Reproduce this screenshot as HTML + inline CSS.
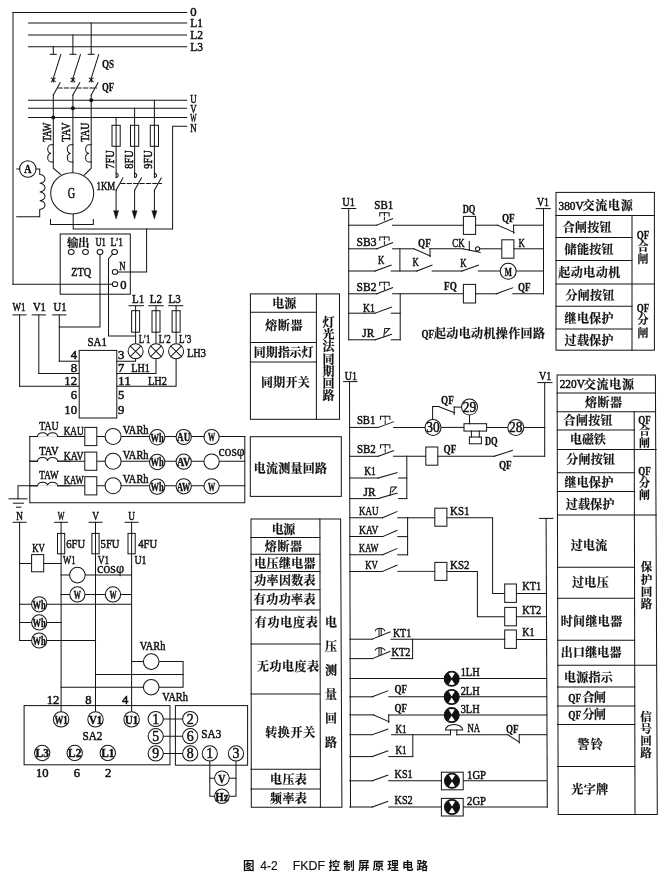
<!DOCTYPE html>
<html lang="zh"><head><meta charset="utf-8"><title>图 4-2 FKDF 控制屏原理电路</title>
<style>
html,body{margin:0;padding:0;background:#fff}
body{width:664px;height:880px;overflow:hidden}
svg{display:block;will-change:transform;filter:grayscale(1)}
svg line,svg polyline,svg path,svg rect,svg circle,svg ellipse{fill:none;stroke:#151515;stroke-width:1.02;stroke-linecap:square}
svg .w{fill:#fff}
svg .k{fill:#111}
svg .wf{fill:#fff;stroke:none}
svg .thin{stroke-width:0.9}
svg text{fill:#111;stroke:none}
svg .t{font-family:"Liberation Serif","Noto Serif CJK SC",serif;stroke:#111;stroke-width:0.5}
svg .tm{font-family:"Liberation Serif",serif;font-weight:700;stroke:#111;stroke-width:0.45}
svg .tb{font-family:"Liberation Serif",serif;font-weight:700;stroke:#111;stroke-width:0.3}
svg .cf{font-family:"Liberation Serif",serif;stroke:#111;stroke-width:0.3}
svg .z{font-family:"Liberation Serif","Noto Serif CJK SC",serif;font-weight:700;stroke:#111;stroke-width:0.2}
svg .cap2{font-family:"Liberation Sans",sans-serif;font-weight:400;stroke:#111;stroke-width:0.15}
svg .cap{font-family:"Liberation Sans","Noto Sans CJK SC",sans-serif;font-weight:700}
</style></head><body>
<svg width="664" height="880" viewBox="0 0 664 880">
<rect x="0" y="0" width="664" height="880" style="fill:#fff;stroke:none"/>
<line x1="13" y1="12.4" x2="186.7" y2="12.4"/>
<line x1="13" y1="12.4" x2="13" y2="284.2"/>
<line x1="13" y1="284.2" x2="112.4" y2="284.2"/>
<line x1="28.6" y1="23" x2="186.7" y2="23"/>
<line x1="28.6" y1="35" x2="186.7" y2="35"/>
<line x1="28.6" y1="46.8" x2="186.7" y2="46.8"/>
<line x1="28.6" y1="100.2" x2="186.7" y2="100.2"/>
<line x1="28.6" y1="108.3" x2="186.7" y2="108.3"/>
<line x1="28.6" y1="117.4" x2="186.7" y2="117.4"/>
<polyline points="186.7,126.3 172.6,126.3 172.6,229 73.2,229 73.2,214"/>
<text x="190.2" y="16.32" text-anchor="start" font-size="12.48" textLength="6.35" lengthAdjust="spacingAndGlyphs" class="t">0</text>
<text x="190.2" y="27.32" text-anchor="start" font-size="12.48" textLength="12.71" lengthAdjust="spacingAndGlyphs" class="t">L1</text>
<text x="190.2" y="39.32" text-anchor="start" font-size="12.48" textLength="12.71" lengthAdjust="spacingAndGlyphs" class="t">L2</text>
<text x="190.2" y="51.12" text-anchor="start" font-size="12.48" textLength="12.71" lengthAdjust="spacingAndGlyphs" class="t">L3</text>
<text x="190.2" y="103.12" text-anchor="start" font-size="12.48" textLength="6.35" lengthAdjust="spacingAndGlyphs" class="t">U</text>
<text x="190.2" y="112.72" text-anchor="start" font-size="12.48" textLength="6.35" lengthAdjust="spacingAndGlyphs" class="t">V</text>
<text x="190.2" y="122.32" text-anchor="start" font-size="12.48" textLength="6.35" lengthAdjust="spacingAndGlyphs" class="t">W</text>
<text x="190.2" y="132.32" text-anchor="start" font-size="12.48" textLength="6.35" lengthAdjust="spacingAndGlyphs" class="t">N</text>
<line x1="53.3" y1="46.8" x2="53.3" y2="54.3"/>
<line x1="50.3" y1="54.3" x2="56.3" y2="54.3"/>
<line x1="60.8" y1="54.6" x2="53.3" y2="78.4"/>
<line x1="51.4" y1="78.1" x2="55.2" y2="81.7"/>
<line x1="51.4" y1="81.7" x2="55.2" y2="78.1"/>
<line x1="53.3" y1="78" x2="53.3" y2="82"/>
<line x1="60.1" y1="82.8" x2="53.3" y2="95"/>
<line x1="72.9" y1="35" x2="72.9" y2="54.3"/>
<line x1="69.9" y1="54.3" x2="75.9" y2="54.3"/>
<line x1="80.4" y1="54.6" x2="72.9" y2="78.4"/>
<line x1="71" y1="78.1" x2="74.8" y2="81.7"/>
<line x1="71" y1="81.7" x2="74.8" y2="78.1"/>
<line x1="72.9" y1="78" x2="72.9" y2="82"/>
<line x1="79.7" y1="82.8" x2="72.9" y2="95"/>
<line x1="91.2" y1="23" x2="91.2" y2="54.3"/>
<line x1="88.2" y1="54.3" x2="94.2" y2="54.3"/>
<line x1="98.7" y1="54.6" x2="91.2" y2="78.4"/>
<line x1="89.3" y1="78.1" x2="93.1" y2="81.7"/>
<line x1="89.3" y1="81.7" x2="93.1" y2="78.1"/>
<line x1="91.2" y1="78" x2="91.2" y2="82"/>
<line x1="98" y1="82.8" x2="91.2" y2="95"/>
<circle cx="53.3" cy="117.4" r="1.5" class="k"/>
<circle cx="72.9" cy="108.3" r="1.5" class="k"/>
<circle cx="91.2" cy="100.2" r="1.5" class="k"/>
<line x1="57.9" y1="87.9" x2="96.5" y2="87.9" stroke-dasharray="4.2 2.2" stroke-linecap="butt"/>
<text x="102" y="68.49" text-anchor="start" font-size="13" textLength="12.18" lengthAdjust="spacingAndGlyphs" class="tb">QS</text>
<text x="102" y="91.49" text-anchor="start" font-size="13" textLength="12.18" lengthAdjust="spacingAndGlyphs" class="tb">QF</text>
<polyline points="53.3,95 53.3,168.2 60.7,174.6"/>
<line x1="72.9" y1="95" x2="72.9" y2="172.8"/>
<polyline points="91.2,95 91.2,168.2 84,175.2"/>
<path d="M53.3,144.8 h-2.2 a3.4,4.3 0 0,0 0,8.6 a3.4,4.3 0 0,0 0,8.6 h2.2"/>
<path d="M72.9,144.8 h-2.2 a3.4,4.3 0 0,0 0,8.6 a3.4,4.3 0 0,0 0,8.6 h2.2"/>
<path d="M91.2,144.8 h-2.2 a3.4,4.3 0 0,0 0,8.6 a3.4,4.3 0 0,0 0,8.6 h2.2"/>
<text x="46.8" y="136.32" text-anchor="middle" font-size="12.48" textLength="19.21" lengthAdjust="spacingAndGlyphs" class="t" transform="rotate(-90 46.8 132.2)">TAW</text>
<text x="66" y="136.32" text-anchor="middle" font-size="12.48" textLength="19.21" lengthAdjust="spacingAndGlyphs" class="t" transform="rotate(-90 66 132.2)">TAV</text>
<text x="84.6" y="136.32" text-anchor="middle" font-size="12.48" textLength="19.21" lengthAdjust="spacingAndGlyphs" class="t" transform="rotate(-90 84.6 132.2)">TAU</text>
<ellipse cx="72.2" cy="193.3" rx="21.5" ry="20.6" class="w"/>
<text x="71.4" y="198.36" text-anchor="middle" font-size="13.52" textLength="7.35" lengthAdjust="spacingAndGlyphs" class="t">G</text>
<polyline points="50.5,219.5 50.5,224.4 93.3,224.4 93.3,219.5"/>
<circle cx="27.8" cy="169" r="8.2" class="w"/>
<text x="27.8" y="173.49" text-anchor="middle" font-size="13" textLength="7.14" lengthAdjust="spacingAndGlyphs" class="tm">A</text>
<line x1="16.8" y1="169" x2="19.6" y2="169"/>
<path d="M36,169 H39.7 V174.6 a5.3,4.35 0 0,1 0,8.7 a5.3,4.35 0 0,1 0,8.7 a5.3,4.35 0 0,1 0,8.7 a5.3,4.35 0 0,1 0,8.7 V216.7 H16.7"/>
<line x1="116.1" y1="117.4" x2="116.1" y2="177.4"/>
<rect x="112" y="125.3" width="8.2" height="21"/>
<path d="M116.1,173.2 a2.1,2.2 0 1,1 0,4.4"/>
<line x1="122.9" y1="178" x2="116.1" y2="190.3"/>
<line x1="116.1" y1="190.3" x2="116.1" y2="213"/>
<path d="M113.7,211 L116.1,219 L118.5,211 Z" style="fill:#111;stroke-width:0.5"/>
<text x="110" y="163.62" text-anchor="middle" font-size="12.48" textLength="18.38" lengthAdjust="spacingAndGlyphs" class="t" transform="rotate(-90 110 159.5)">7FU</text>
<line x1="134.6" y1="108.3" x2="134.6" y2="177.4"/>
<rect x="130.5" y="125.3" width="8.2" height="21"/>
<path d="M134.6,173.2 a2.1,2.2 0 1,1 0,4.4"/>
<line x1="141.4" y1="178" x2="134.6" y2="190.3"/>
<line x1="134.6" y1="190.3" x2="134.6" y2="213"/>
<path d="M132.2,211 L134.6,219 L137,211 Z" style="fill:#111;stroke-width:0.5"/>
<text x="128.4" y="163.62" text-anchor="middle" font-size="12.48" textLength="18.38" lengthAdjust="spacingAndGlyphs" class="t" transform="rotate(-90 128.4 159.5)">8FU</text>
<line x1="154.4" y1="100.2" x2="154.4" y2="177.4"/>
<rect x="150.3" y="125.3" width="8.2" height="21"/>
<path d="M154.4,173.2 a2.1,2.2 0 1,1 0,4.4"/>
<line x1="161.2" y1="178" x2="154.4" y2="190.3"/>
<line x1="154.4" y1="190.3" x2="154.4" y2="213"/>
<path d="M152,211 L154.4,219 L156.8,211 Z" style="fill:#111;stroke-width:0.5"/>
<text x="147.6" y="163.62" text-anchor="middle" font-size="12.48" textLength="18.38" lengthAdjust="spacingAndGlyphs" class="t" transform="rotate(-90 147.6 159.5)">9FU</text>
<line x1="120.8" y1="183.5" x2="161.5" y2="183.5" stroke-dasharray="4.2 2.2" stroke-linecap="butt"/>
<text x="96.5" y="189.62" text-anchor="start" font-size="12.48" textLength="18.69" lengthAdjust="spacingAndGlyphs" class="t">1KM</text>
<rect x="60.2" y="234" width="70.1" height="60.2"/>
<polyline points="146.6,229 146.6,271.9 117.6,271.9"/>
<text x="67" y="246.97" text-anchor="start" font-size="11.5" textLength="22.5" lengthAdjust="spacing" class="z">输出</text>
<text x="95.4" y="246.32" text-anchor="start" font-size="12.48" textLength="10.5" lengthAdjust="spacingAndGlyphs" class="t">U1</text>
<text x="110.5" y="246.32" text-anchor="start" font-size="12.48" textLength="12.39" lengthAdjust="spacingAndGlyphs" class="t">L′1</text>
<ellipse cx="71.2" cy="252" rx="2.9" ry="2.4" class="w"/>
<ellipse cx="85.5" cy="252" rx="2.9" ry="2.4" class="w"/>
<ellipse cx="100" cy="252" rx="2.9" ry="2.4" class="w"/>
<ellipse cx="114.6" cy="252" rx="2.9" ry="2.4" class="w"/>
<ellipse cx="115" cy="271.9" rx="2.7" ry="2.4" class="w"/>
<ellipse cx="115" cy="284.2" rx="2.7" ry="2.4" class="w"/>
<text x="119.3" y="270.12" text-anchor="start" font-size="12.48" textLength="6.3" lengthAdjust="spacingAndGlyphs" class="t">N</text>
<text x="120.2" y="288.72" text-anchor="start" font-size="12.48" textLength="6.3" lengthAdjust="spacingAndGlyphs" class="t">0</text>
<text x="71.3" y="275.52" text-anchor="start" font-size="12.48" textLength="19.95" lengthAdjust="spacingAndGlyphs" class="t">ZTQ</text>
<polyline points="100,254.4 100,327 59.3,327"/>
<polyline points="112.8,254 108.5,258.6 108.5,336 135.6,336"/>
<text x="12.5" y="310.92" text-anchor="start" font-size="12.48" textLength="13.02" lengthAdjust="spacingAndGlyphs" class="t">W1</text>
<line x1="13" y1="314.9" x2="26.2" y2="314.9"/>
<text x="32.9" y="310.92" text-anchor="start" font-size="12.48" textLength="13.02" lengthAdjust="spacingAndGlyphs" class="t">V1</text>
<line x1="32.2" y1="314.9" x2="45.4" y2="314.9"/>
<text x="53.5" y="310.92" text-anchor="start" font-size="12.48" textLength="13.02" lengthAdjust="spacingAndGlyphs" class="t">U1</text>
<line x1="52.7" y1="314.9" x2="65.9" y2="314.9"/>
<line x1="19.6" y1="314.9" x2="19.6" y2="386.2"/>
<line x1="19.6" y1="386.2" x2="79.2" y2="386.2"/>
<line x1="38.8" y1="314.9" x2="38.8" y2="373.5"/>
<line x1="38.8" y1="373.5" x2="79.2" y2="373.5"/>
<line x1="59.3" y1="314.9" x2="59.3" y2="361.2"/>
<line x1="59.3" y1="361.2" x2="79.2" y2="361.2"/>
<rect x="79.2" y="350.4" width="37.6" height="67.6" class="w"/>
<text x="87.5" y="346.12" text-anchor="start" font-size="12.48" textLength="19.43" lengthAdjust="spacingAndGlyphs" class="t">SA1</text>
<text x="77" y="358.92" text-anchor="end" font-size="12.48" textLength="6.35" lengthAdjust="spacingAndGlyphs" class="t">4</text>
<text x="77" y="371.52" text-anchor="end" font-size="12.48" textLength="6.35" lengthAdjust="spacingAndGlyphs" class="t">8</text>
<text x="77" y="384.72" text-anchor="end" font-size="12.48" textLength="12.71" lengthAdjust="spacingAndGlyphs" class="t">12</text>
<text x="77" y="398.52" text-anchor="end" font-size="12.48" textLength="6.35" lengthAdjust="spacingAndGlyphs" class="t">6</text>
<text x="77" y="413.52" text-anchor="end" font-size="12.48" textLength="12.71" lengthAdjust="spacingAndGlyphs" class="t">10</text>
<text x="118.1" y="358.92" text-anchor="start" font-size="12.48" textLength="6.35" lengthAdjust="spacingAndGlyphs" class="t">3</text>
<text x="118.1" y="371.52" text-anchor="start" font-size="12.48" textLength="6.35" lengthAdjust="spacingAndGlyphs" class="t">7</text>
<text x="118.1" y="384.72" text-anchor="start" font-size="12.48" textLength="12.71" lengthAdjust="spacingAndGlyphs" class="t">11</text>
<text x="118.1" y="398.52" text-anchor="start" font-size="12.48" textLength="6.35" lengthAdjust="spacingAndGlyphs" class="t">5</text>
<text x="118.1" y="413.52" text-anchor="start" font-size="12.48" textLength="6.35" lengthAdjust="spacingAndGlyphs" class="t">9</text>
<text x="131.3" y="371.52" text-anchor="start" font-size="12.48" textLength="18.48" lengthAdjust="spacingAndGlyphs" class="t">LH1</text>
<text x="147.9" y="384.92" text-anchor="start" font-size="12.48" textLength="18.9" lengthAdjust="spacingAndGlyphs" class="t">LH2</text>
<text x="186.9" y="356.72" text-anchor="start" font-size="12.48" textLength="18.9" lengthAdjust="spacingAndGlyphs" class="t">LH3</text>
<text x="132.1" y="303.12" text-anchor="start" font-size="12.48" textLength="12.18" lengthAdjust="spacingAndGlyphs" class="t">L1</text>
<line x1="129" y1="305.7" x2="143.4" y2="305.7"/>
<line x1="135.6" y1="305.7" x2="135.6" y2="344"/>
<rect x="131.6" y="310.7" width="8" height="21.5"/>
<circle cx="135.6" cy="351.3" r="7.5" class="w"/>
<line x1="130.3" y1="346" x2="140.9" y2="356.6"/>
<line x1="130.3" y1="356.6" x2="140.9" y2="346"/>
<text x="149.7" y="303.12" text-anchor="start" font-size="12.48" textLength="12.18" lengthAdjust="spacingAndGlyphs" class="t">L2</text>
<line x1="148.9" y1="305.7" x2="163" y2="305.7"/>
<line x1="156" y1="305.7" x2="156" y2="344"/>
<rect x="152" y="310.7" width="8" height="21.5"/>
<circle cx="156" cy="351.3" r="7.5" class="w"/>
<line x1="150.7" y1="346" x2="161.3" y2="356.6"/>
<line x1="150.7" y1="356.6" x2="161.3" y2="346"/>
<text x="168.5" y="303.12" text-anchor="start" font-size="12.48" textLength="12.18" lengthAdjust="spacingAndGlyphs" class="t">L3</text>
<line x1="168.8" y1="305.7" x2="182.8" y2="305.7"/>
<line x1="176.1" y1="305.7" x2="176.1" y2="344"/>
<rect x="172.1" y="310.7" width="8" height="21.5"/>
<circle cx="176.1" cy="351.3" r="7.5" class="w"/>
<line x1="170.8" y1="346" x2="181.4" y2="356.6"/>
<line x1="170.8" y1="356.6" x2="181.4" y2="346"/>
<text x="138.7" y="342.92" text-anchor="start" font-size="12.48" textLength="11.55" lengthAdjust="spacingAndGlyphs" class="t">L′1</text>
<text x="158.7" y="342.92" text-anchor="start" font-size="12.48" textLength="11.97" lengthAdjust="spacingAndGlyphs" class="t">L′2</text>
<text x="179.1" y="342.92" text-anchor="start" font-size="12.48" textLength="12.18" lengthAdjust="spacingAndGlyphs" class="t">L′3</text>
<polyline points="116.8,361.2 135.6,361.2 135.6,358.8"/>
<polyline points="116.8,373.5 156,373.5 156,358.8"/>
<polyline points="116.8,386.2 176.1,386.2 176.1,358.8"/>
<polyline points="244.8,436.5 244.8,502.7 29.8,502.7 29.8,436.5"/>
<polyline points="29.8,485.8 18,485.8 18,498.8"/>
<line x1="9" y1="498.8" x2="27" y2="498.8"/>
<line x1="13.4" y1="503.2" x2="23.4" y2="503.2"/>
<line x1="16.4" y1="507.2" x2="20.8" y2="507.2"/>
<line x1="29.8" y1="436.5" x2="244.8" y2="436.5"/>
<path d="M37.4,436.5 c0.6,-4.6 9.4,-5 10.2,-0.4 c0.8,-4.6 9.6,-4.2 10.2,0.4" class="w"/>
<rect x="37.8" y="436.3" width="19.8" height="1.6" style="fill:#fff;stroke:none"/>
<line x1="29.8" y1="436.5" x2="37.6" y2="436.5"/>
<line x1="57.6" y1="436.5" x2="70" y2="436.5"/>
<rect x="84.8" y="427.4" width="12" height="18.2" class="w"/>
<circle cx="113.1" cy="436.5" r="8" class="w"/>
<circle cx="157.2" cy="437.3" r="7.7" class="w"/>
<text x="157.2" y="441.79" text-anchor="middle" font-size="13" textLength="13.23" lengthAdjust="spacingAndGlyphs" class="tm">Wh</text>
<circle cx="183.7" cy="437" r="7.6" class="w"/>
<text x="183.7" y="441.49" text-anchor="middle" font-size="13" textLength="13.23" lengthAdjust="spacingAndGlyphs" class="tm">AU</text>
<circle cx="211.6" cy="437" r="7.6" class="w"/>
<text x="211.6" y="441.49" text-anchor="middle" font-size="13" textLength="7.14" lengthAdjust="spacingAndGlyphs" class="tm">W</text>
<text x="39.3" y="430.02" text-anchor="start" font-size="12.48" textLength="19.32" lengthAdjust="spacingAndGlyphs" class="t">TAU</text>
<text x="63.7" y="434.82" text-anchor="start" font-size="12.48" textLength="19.95" lengthAdjust="spacingAndGlyphs" class="t">KAU</text>
<text x="122.7" y="434.02" text-anchor="start" font-size="12.48" textLength="25.83" lengthAdjust="spacingAndGlyphs" class="t">VARh</text>
<line x1="29.8" y1="461.2" x2="244.8" y2="461.2"/>
<path d="M37.4,461.2 c0.6,-4.6 9.4,-5 10.2,-0.4 c0.8,-4.6 9.6,-4.2 10.2,0.4" class="w"/>
<rect x="37.8" y="461" width="19.8" height="1.6" style="fill:#fff;stroke:none"/>
<line x1="29.8" y1="461.2" x2="37.6" y2="461.2"/>
<line x1="57.6" y1="461.2" x2="70" y2="461.2"/>
<rect x="84.8" y="452.1" width="12" height="18.2" class="w"/>
<circle cx="113.1" cy="461.2" r="8" class="w"/>
<circle cx="157.2" cy="462" r="7.7" class="w"/>
<text x="157.2" y="466.49" text-anchor="middle" font-size="13" textLength="13.23" lengthAdjust="spacingAndGlyphs" class="tm">Wh</text>
<circle cx="183.7" cy="461.7" r="7.6" class="w"/>
<text x="183.7" y="466.19" text-anchor="middle" font-size="13" textLength="13.23" lengthAdjust="spacingAndGlyphs" class="tm">AV</text>
<circle cx="211.6" cy="461.6" r="7.7" class="w"/>
<text x="39.3" y="454.72" text-anchor="start" font-size="12.48" textLength="19.32" lengthAdjust="spacingAndGlyphs" class="t">TAV</text>
<text x="63.7" y="459.52" text-anchor="start" font-size="12.48" textLength="19.95" lengthAdjust="spacingAndGlyphs" class="t">KAV</text>
<text x="122.7" y="458.72" text-anchor="start" font-size="12.48" textLength="25.83" lengthAdjust="spacingAndGlyphs" class="t">VARh</text>
<line x1="29.8" y1="485.8" x2="244.8" y2="485.8"/>
<path d="M37.4,485.8 c0.6,-4.6 9.4,-5 10.2,-0.4 c0.8,-4.6 9.6,-4.2 10.2,0.4" class="w"/>
<rect x="37.8" y="485.6" width="19.8" height="1.6" style="fill:#fff;stroke:none"/>
<line x1="29.8" y1="485.8" x2="37.6" y2="485.8"/>
<line x1="57.6" y1="485.8" x2="70" y2="485.8"/>
<rect x="84.8" y="476.7" width="12" height="18.2" class="w"/>
<circle cx="113.1" cy="485.8" r="8" class="w"/>
<circle cx="157.2" cy="486.6" r="7.7" class="w"/>
<text x="157.2" y="491.09" text-anchor="middle" font-size="13" textLength="13.23" lengthAdjust="spacingAndGlyphs" class="tm">Wh</text>
<circle cx="183.7" cy="486.3" r="7.6" class="w"/>
<text x="183.7" y="490.79" text-anchor="middle" font-size="13" textLength="13.23" lengthAdjust="spacingAndGlyphs" class="tm">AW</text>
<circle cx="211.6" cy="486.3" r="7.6" class="w"/>
<text x="211.6" y="490.79" text-anchor="middle" font-size="13" textLength="7.14" lengthAdjust="spacingAndGlyphs" class="tm">W</text>
<text x="39.3" y="479.32" text-anchor="start" font-size="12.48" textLength="19.32" lengthAdjust="spacingAndGlyphs" class="t">TAW</text>
<text x="63.7" y="484.12" text-anchor="start" font-size="12.48" textLength="19.95" lengthAdjust="spacingAndGlyphs" class="t">KAW</text>
<text x="122.7" y="483.32" text-anchor="start" font-size="12.48" textLength="25.83" lengthAdjust="spacingAndGlyphs" class="t">VARh</text>
<text x="218.5" y="455.66" text-anchor="start" font-size="13.52" textLength="26.25" lengthAdjust="spacingAndGlyphs" class="cf">cosφ</text>
<text x="19.6" y="519.72" text-anchor="middle" font-size="12.48" textLength="6.72" lengthAdjust="spacingAndGlyphs" class="t">N</text>
<line x1="13.1" y1="522.3" x2="26.1" y2="522.3"/>
<text x="61.1" y="519.72" text-anchor="middle" font-size="12.48" textLength="6.72" lengthAdjust="spacingAndGlyphs" class="t">W</text>
<line x1="54.6" y1="522.3" x2="67.6" y2="522.3"/>
<text x="95.5" y="519.72" text-anchor="middle" font-size="12.48" textLength="6.72" lengthAdjust="spacingAndGlyphs" class="t">V</text>
<line x1="89" y1="522.3" x2="102" y2="522.3"/>
<text x="131.6" y="519.72" text-anchor="middle" font-size="12.48" textLength="6.72" lengthAdjust="spacingAndGlyphs" class="t">U</text>
<line x1="125.1" y1="522.3" x2="138.1" y2="522.3"/>
<line x1="19.6" y1="522.3" x2="19.6" y2="640.5"/>
<line x1="61.1" y1="522.3" x2="61.1" y2="712"/>
<line x1="95.5" y1="522.3" x2="95.5" y2="712"/>
<line x1="131.6" y1="522.3" x2="131.6" y2="712"/>
<rect x="57.5" y="533.4" width="7.2" height="20.4" class="w"/>
<line x1="61.1" y1="533.4" x2="61.1" y2="553.8"/>
<text x="66.2" y="548.12" text-anchor="start" font-size="12.48" textLength="18.9" lengthAdjust="spacingAndGlyphs" class="t">6FU</text>
<rect x="91.9" y="533.4" width="7.2" height="20.4" class="w"/>
<line x1="95.5" y1="533.4" x2="95.5" y2="553.8"/>
<text x="100.6" y="548.12" text-anchor="start" font-size="12.48" textLength="18.9" lengthAdjust="spacingAndGlyphs" class="t">5FU</text>
<rect x="128" y="533.4" width="7.2" height="20.4" class="w"/>
<line x1="131.6" y1="533.4" x2="131.6" y2="553.8"/>
<text x="138.2" y="548.12" text-anchor="start" font-size="12.48" textLength="18.9" lengthAdjust="spacingAndGlyphs" class="t">4FU</text>
<text x="32.3" y="551.52" text-anchor="start" font-size="12.48" textLength="12.6" lengthAdjust="spacingAndGlyphs" class="t">KV</text>
<line x1="19.6" y1="563.5" x2="61.1" y2="563.5"/>
<rect x="31.6" y="554.6" width="12.1" height="17.2" class="w"/>
<text x="63.1" y="563.72" text-anchor="start" font-size="12.48" textLength="12.6" lengthAdjust="spacingAndGlyphs" class="t">W1</text>
<text x="97.7" y="563.72" text-anchor="start" font-size="12.48" textLength="11.55" lengthAdjust="spacingAndGlyphs" class="t">V1</text>
<text x="134.5" y="563.72" text-anchor="start" font-size="12.48" textLength="11.97" lengthAdjust="spacingAndGlyphs" class="t">U1</text>
<text x="96.9" y="573.46" text-anchor="start" font-size="13.52" textLength="27.3" lengthAdjust="spacingAndGlyphs" class="cf">cosφ</text>
<line x1="61.1" y1="575.1" x2="131.6" y2="575.1"/>
<circle cx="77.4" cy="575.1" r="7.8" class="w"/>
<line x1="61.1" y1="594.4" x2="131.6" y2="594.4"/>
<circle cx="77.4" cy="594.4" r="7.6" class="w"/>
<text x="77.4" y="598.89" text-anchor="middle" font-size="13" textLength="7.14" lengthAdjust="spacingAndGlyphs" class="tm">W</text>
<circle cx="113" cy="594.4" r="7.6" class="w"/>
<text x="113" y="598.89" text-anchor="middle" font-size="13" textLength="7.14" lengthAdjust="spacingAndGlyphs" class="tm">W</text>
<line x1="19.6" y1="604.3" x2="131.6" y2="604.3"/>
<circle cx="39.2" cy="604.3" r="7.6" class="w"/>
<text x="39.2" y="608.79" text-anchor="middle" font-size="13" textLength="13.23" lengthAdjust="spacingAndGlyphs" class="tm">Wh</text>
<line x1="19.6" y1="622.4" x2="61.1" y2="622.4"/>
<circle cx="39.2" cy="622.4" r="7.6" class="w"/>
<text x="39.2" y="626.89" text-anchor="middle" font-size="13" textLength="13.23" lengthAdjust="spacingAndGlyphs" class="tm">Wh</text>
<line x1="19.6" y1="640.5" x2="95.5" y2="640.5"/>
<circle cx="39.2" cy="640.5" r="7.6" class="w"/>
<text x="39.2" y="644.99" text-anchor="middle" font-size="13" textLength="13.23" lengthAdjust="spacingAndGlyphs" class="tm">Wh</text>
<polyline points="131.6,661.6 183.1,661.6 183.1,687.2 61.1,687.2"/>
<line x1="95.5" y1="674.6" x2="183.1" y2="674.6"/>
<circle cx="151.2" cy="661.6" r="7.8" class="w"/>
<circle cx="151.2" cy="687.2" r="7.8" class="w"/>
<text x="139.7" y="650.12" text-anchor="start" font-size="12.48" textLength="25.62" lengthAdjust="spacingAndGlyphs" class="t">VARh</text>
<text x="162.3" y="701.12" text-anchor="start" font-size="12.48" textLength="25.62" lengthAdjust="spacingAndGlyphs" class="t">VARh</text>
<rect x="24.1" y="705.6" width="145.9" height="59.2"/>
<rect x="175.4" y="705.6" width="72.2" height="59.6"/>
<text x="46.7" y="703.72" text-anchor="start" font-size="12.48" textLength="12.6" lengthAdjust="spacingAndGlyphs" class="t">12</text>
<text x="85.3" y="703.72" text-anchor="start" font-size="12.48" textLength="6.3" lengthAdjust="spacingAndGlyphs" class="t">8</text>
<text x="121.9" y="703.72" text-anchor="start" font-size="12.48" textLength="6.3" lengthAdjust="spacingAndGlyphs" class="t">4</text>
<circle cx="61.1" cy="719.4" r="7.7" class="w"/>
<text x="61.1" y="723.89" text-anchor="middle" font-size="13" textLength="13.23" lengthAdjust="spacingAndGlyphs" class="tm">W1</text>
<circle cx="95.5" cy="719.4" r="7.7" class="w"/>
<text x="95.5" y="723.89" text-anchor="middle" font-size="13" textLength="13.23" lengthAdjust="spacingAndGlyphs" class="tm">V1</text>
<circle cx="131.6" cy="719.4" r="7.7" class="w"/>
<text x="131.6" y="723.89" text-anchor="middle" font-size="13" textLength="13.23" lengthAdjust="spacingAndGlyphs" class="tm">U1</text>
<circle cx="42.2" cy="753" r="7.7" class="w"/>
<text x="42.2" y="757.49" text-anchor="middle" font-size="13" textLength="13.23" lengthAdjust="spacingAndGlyphs" class="tm">L3</text>
<circle cx="74.7" cy="753" r="7.7" class="w"/>
<text x="74.7" y="757.49" text-anchor="middle" font-size="13" textLength="13.23" lengthAdjust="spacingAndGlyphs" class="tm">L2</text>
<circle cx="107.8" cy="753" r="7.7" class="w"/>
<text x="107.8" y="757.49" text-anchor="middle" font-size="13" textLength="13.23" lengthAdjust="spacingAndGlyphs" class="tm">L1</text>
<text x="82.5" y="740.32" text-anchor="start" font-size="12.48" textLength="19.95" lengthAdjust="spacingAndGlyphs" class="t">SA2</text>
<text x="35.9" y="776.52" text-anchor="start" font-size="12.48" textLength="12.6" lengthAdjust="spacingAndGlyphs" class="t">10</text>
<text x="73.7" y="776.52" text-anchor="start" font-size="12.48" textLength="6.3" lengthAdjust="spacingAndGlyphs" class="t">6</text>
<text x="104.9" y="776.52" text-anchor="start" font-size="12.48" textLength="6.3" lengthAdjust="spacingAndGlyphs" class="t">2</text>
<line x1="155.7" y1="719" x2="190.2" y2="719"/>
<circle cx="155.7" cy="719" r="7.6" class="w"/>
<text x="155.7" y="724" text-anchor="middle" font-size="14.56" textLength="6.93" lengthAdjust="spacingAndGlyphs" class="t">1</text>
<circle cx="190.2" cy="719" r="7.6" class="w"/>
<text x="190.2" y="724" text-anchor="middle" font-size="14.56" textLength="6.93" lengthAdjust="spacingAndGlyphs" class="t">2</text>
<line x1="155.7" y1="736.2" x2="190.2" y2="736.2"/>
<circle cx="155.7" cy="736.2" r="7.6" class="w"/>
<text x="155.7" y="741.2" text-anchor="middle" font-size="14.56" textLength="6.93" lengthAdjust="spacingAndGlyphs" class="t">5</text>
<circle cx="190.2" cy="736.2" r="7.6" class="w"/>
<text x="190.2" y="741.2" text-anchor="middle" font-size="14.56" textLength="6.93" lengthAdjust="spacingAndGlyphs" class="t">6</text>
<line x1="155.7" y1="753.4" x2="190.2" y2="753.4"/>
<circle cx="155.7" cy="753.4" r="7.6" class="w"/>
<text x="155.7" y="758.4" text-anchor="middle" font-size="14.56" textLength="6.93" lengthAdjust="spacingAndGlyphs" class="t">9</text>
<circle cx="190.2" cy="753.4" r="7.6" class="w"/>
<text x="190.2" y="758.4" text-anchor="middle" font-size="14.56" textLength="6.93" lengthAdjust="spacingAndGlyphs" class="t">8</text>
<text x="201.3" y="738.32" text-anchor="start" font-size="12.48" textLength="19.95" lengthAdjust="spacingAndGlyphs" class="t">SA3</text>
<polyline points="209.8,753.4 209.8,796.3 236,796.3 236,753.4"/>
<line x1="209.8" y1="778.2" x2="236" y2="778.2"/>
<circle cx="209.8" cy="753.4" r="7.6" class="w"/>
<text x="209.8" y="758.4" text-anchor="middle" font-size="14.56" textLength="6.93" lengthAdjust="spacingAndGlyphs" class="t">1</text>
<circle cx="236" cy="753.4" r="7.6" class="w"/>
<text x="236" y="758.4" text-anchor="middle" font-size="14.56" textLength="6.93" lengthAdjust="spacingAndGlyphs" class="t">3</text>
<circle cx="221.9" cy="778.2" r="7.3" class="w"/>
<text x="221.9" y="782.69" text-anchor="middle" font-size="13" textLength="7.14" lengthAdjust="spacingAndGlyphs" class="tm">V</text>
<circle cx="221.9" cy="796.3" r="7.3" class="w"/>
<text x="221.9" y="800.79" text-anchor="middle" font-size="13" textLength="13.23" lengthAdjust="spacingAndGlyphs" class="tm">Hz</text>
<rect x="250.4" y="293.9" width="89.1" height="125.4"/>
<line x1="316.4" y1="293.9" x2="316.4" y2="419.3"/>
<line x1="250.4" y1="312.2" x2="316.4" y2="312.2"/>
<line x1="250.4" y1="342.6" x2="316.4" y2="342.6"/>
<line x1="250.4" y1="362.1" x2="316.4" y2="362.1"/>
<text x="272.2" y="308.38" text-anchor="start" font-size="12" textLength="24.1" lengthAdjust="spacing" class="z">电源</text>
<text x="265.3" y="329.98" text-anchor="start" font-size="12" textLength="37.2" lengthAdjust="spacing" class="z">熔断器</text>
<text x="253.7" y="357.38" text-anchor="start" font-size="12" textLength="59.9" lengthAdjust="spacing" class="z">同期指示灯</text>
<text x="261.1" y="387.18" text-anchor="start" font-size="12" textLength="48.6" lengthAdjust="spacing" class="z">同期开关</text>
<text x="328.4" y="327.38" text-anchor="middle" font-size="12" class="z">灯</text>
<text x="328.4" y="339.43" text-anchor="middle" font-size="12" class="z">光</text>
<text x="328.4" y="351.48" text-anchor="middle" font-size="12" class="z">法</text>
<text x="328.4" y="363.53" text-anchor="middle" font-size="12" class="z">同</text>
<text x="328.4" y="375.58" text-anchor="middle" font-size="12" class="z">期</text>
<text x="328.4" y="387.63" text-anchor="middle" font-size="12" class="z">回</text>
<text x="328.4" y="399.68" text-anchor="middle" font-size="12" class="z">路</text>
<rect x="250.3" y="436.7" width="91" height="59.7"/>
<text x="253.7" y="473.38" text-anchor="start" font-size="12" textLength="73.2" lengthAdjust="spacing" class="z">电流测量回路</text>
<polyline points="251,519.1 340.6,519.1 341.9,807.3 251.3,807.3 251,519.1"/>
<line x1="319.9" y1="519.1" x2="320.4" y2="807.3"/>
<line x1="251" y1="537.4" x2="320" y2="537.4"/>
<line x1="251" y1="554.3" x2="320" y2="554.3"/>
<line x1="251" y1="571.6" x2="320" y2="571.6"/>
<line x1="251" y1="589.8" x2="320" y2="589.8"/>
<line x1="251" y1="609.9" x2="320" y2="609.9"/>
<line x1="251" y1="644" x2="320" y2="644"/>
<line x1="251" y1="694.1" x2="320" y2="694.1"/>
<line x1="251" y1="769.3" x2="320" y2="769.3"/>
<line x1="251" y1="788.9" x2="320" y2="788.9"/>
<text x="271.8" y="533.98" text-anchor="start" font-size="12" textLength="23.5" lengthAdjust="spacing" class="z">电源</text>
<text x="264.7" y="551.28" text-anchor="start" font-size="12" textLength="37.4" lengthAdjust="spacing" class="z">熔断器</text>
<text x="254.2" y="568.18" text-anchor="start" font-size="12" textLength="61.4" lengthAdjust="spacing" class="z">电压继电器</text>
<text x="254.2" y="584.78" text-anchor="start" font-size="12" textLength="61.4" lengthAdjust="spacing" class="z">功率因数表</text>
<text x="253.7" y="603.58" text-anchor="start" font-size="12" textLength="61.9" lengthAdjust="spacing" class="z">有功功率表</text>
<text x="254.7" y="626.98" text-anchor="start" font-size="12" textLength="63" lengthAdjust="spacing" class="z">有功电度表</text>
<text x="257.1" y="671.48" text-anchor="start" font-size="12" textLength="61.8" lengthAdjust="spacing" class="z">无功电度表</text>
<text x="265.2" y="736.88" text-anchor="start" font-size="12" textLength="50" lengthAdjust="spacing" class="z">转换开关</text>
<text x="270.1" y="783.98" text-anchor="start" font-size="12" textLength="36.6" lengthAdjust="spacing" class="z">电压表</text>
<text x="270.1" y="802.88" text-anchor="start" font-size="12" textLength="36.6" lengthAdjust="spacing" class="z">频率表</text>
<text x="331.1" y="626.98" text-anchor="middle" font-size="12" class="z">电</text>
<text x="331.1" y="650.93" text-anchor="middle" font-size="12" class="z">压</text>
<text x="331.1" y="674.88" text-anchor="middle" font-size="12" class="z">测</text>
<text x="331.1" y="698.83" text-anchor="middle" font-size="12" class="z">量</text>
<text x="331.1" y="722.78" text-anchor="middle" font-size="12" class="z">回</text>
<text x="331.1" y="746.73" text-anchor="middle" font-size="12" class="z">路</text>
<text x="243" y="870.37" text-anchor="start" font-size="11.5" class="cap">图</text>
<text x="260.3" y="869.75" text-anchor="start" font-size="11.96" textLength="17.43" lengthAdjust="spacingAndGlyphs" class="cap2">4-2</text>
<text x="292.8" y="869.75" text-anchor="start" font-size="11.96" textLength="32.34" lengthAdjust="spacingAndGlyphs" class="cap2">FKDF</text>
<text x="328.6" y="870.37" text-anchor="start" font-size="11.5" textLength="99.5" lengthAdjust="spacing" class="cap">控制屏原理电路</text>
<text x="342.3" y="206.12" text-anchor="start" font-size="12.48" textLength="12.6" lengthAdjust="spacingAndGlyphs" class="t">U1</text>
<line x1="341.8" y1="208.5" x2="355.8" y2="208.5"/>
<text x="536.9" y="205.52" text-anchor="start" font-size="12.48" textLength="11.97" lengthAdjust="spacingAndGlyphs" class="t">V1</text>
<line x1="536.2" y1="208.6" x2="550.4" y2="208.6"/>
<line x1="348.7" y1="208.5" x2="348.7" y2="339.8"/>
<line x1="543.5" y1="208.6" x2="543.5" y2="294"/>
<line x1="348.7" y1="225.2" x2="376.8" y2="225.2"/>
<line x1="376.8" y1="225.2" x2="392.6" y2="218.7"/>
<line x1="392.6" y1="225.2" x2="463.4" y2="225.2"/>
<polyline points="379.7,216 379.7,212.8 389.1,212.8 389.1,216"/>
<line x1="384.4" y1="212.8" x2="384.4" y2="221.8" stroke-dasharray="2.8 1.7" stroke-linecap="butt"/>
<text x="374.3" y="209.12" text-anchor="start" font-size="12.48" textLength="18.9" lengthAdjust="spacingAndGlyphs" class="t">SB1</text>
<rect x="463.4" y="216.4" width="12.2" height="18" class="w"/>
<text x="462.7" y="212.89" text-anchor="start" font-size="13" textLength="12.81" lengthAdjust="spacingAndGlyphs" class="tb">DQ</text>
<line x1="475.6" y1="225.2" x2="497.6" y2="225.2"/>
<line x1="497.6" y1="225.2" x2="514.3" y2="232.4"/>
<line x1="513.6" y1="225.2" x2="513.6" y2="233.2"/>
<line x1="513.6" y1="225.2" x2="543.5" y2="225.2"/>
<text x="501.9" y="221.69" text-anchor="start" font-size="13" textLength="12.81" lengthAdjust="spacingAndGlyphs" class="tb">QF</text>
<line x1="348.7" y1="248.8" x2="376.8" y2="248.8"/>
<line x1="376.8" y1="248.8" x2="392.6" y2="242.6"/>
<line x1="392.6" y1="248.8" x2="413.8" y2="248.8"/>
<polyline points="379.7,240.2 379.7,237 389.1,237 389.1,240.2"/>
<line x1="384.4" y1="237" x2="384.4" y2="246" stroke-dasharray="2.8 1.7" stroke-linecap="butt"/>
<text x="356.6" y="245.62" text-anchor="start" font-size="12.48" textLength="19.95" lengthAdjust="spacingAndGlyphs" class="t">SB3</text>
<line x1="413.8" y1="248.8" x2="430.4" y2="256"/>
<line x1="430" y1="248.8" x2="430" y2="256.6"/>
<line x1="430" y1="248.8" x2="463" y2="248.8"/>
<text x="418" y="247.29" text-anchor="start" font-size="13" textLength="12.81" lengthAdjust="spacingAndGlyphs" class="tb">QF</text>
<line x1="469.3" y1="241.6" x2="469.3" y2="250.2"/>
<line x1="463" y1="248.8" x2="480.2" y2="252.4"/>
<circle cx="477.6" cy="248.8" r="2.1" class="w"/>
<line x1="479.8" y1="248.8" x2="501.8" y2="248.8"/>
<rect x="501.8" y="239.8" width="12.1" height="18.4" class="w"/>
<line x1="513.9" y1="248.8" x2="543.5" y2="248.8"/>
<text x="452.3" y="246.52" text-anchor="start" font-size="12.48" textLength="12.18" lengthAdjust="spacingAndGlyphs" class="t">CK</text>
<text x="518.5" y="246.92" text-anchor="start" font-size="12.48" textLength="6.3" lengthAdjust="spacingAndGlyphs" class="t">K</text>
<line x1="399.9" y1="248.8" x2="399.9" y2="271"/>
<line x1="348.7" y1="271" x2="375" y2="271"/>
<line x1="375" y1="271" x2="391.2" y2="265.2"/>
<line x1="391.2" y1="271" x2="416.8" y2="271"/>
<line x1="416.8" y1="271" x2="432" y2="265.2"/>
<line x1="432.2" y1="271" x2="462" y2="271"/>
<line x1="462" y1="271" x2="478.4" y2="265.2"/>
<line x1="478.4" y1="271" x2="543.5" y2="271"/>
<circle cx="508.2" cy="271.2" r="8" class="w"/>
<text x="508.2" y="275.69" text-anchor="middle" font-size="13" textLength="7.14" lengthAdjust="spacingAndGlyphs" class="tm">M</text>
<text x="378.1" y="263.72" text-anchor="start" font-size="12.48" textLength="6.3" lengthAdjust="spacingAndGlyphs" class="t">K</text>
<text x="412.6" y="266.32" text-anchor="start" font-size="12.48" textLength="6.3" lengthAdjust="spacingAndGlyphs" class="t">K</text>
<text x="460.3" y="266.72" text-anchor="start" font-size="12.48" textLength="6.3" lengthAdjust="spacingAndGlyphs" class="t">K</text>
<line x1="348.7" y1="293.8" x2="376.8" y2="293.8"/>
<line x1="376.8" y1="293.8" x2="392.6" y2="287.6"/>
<line x1="392.6" y1="293.8" x2="463.4" y2="293.8"/>
<polyline points="379.7,285.4 379.7,282.2 389.1,282.2 389.1,285.4"/>
<line x1="384.4" y1="282.2" x2="384.4" y2="291.2" stroke-dasharray="2.8 1.7" stroke-linecap="butt"/>
<text x="356.6" y="290.92" text-anchor="start" font-size="12.48" textLength="19.95" lengthAdjust="spacingAndGlyphs" class="t">SB2</text>
<rect x="463.4" y="284.4" width="12.2" height="18.6" class="w"/>
<text x="444.1" y="290.49" text-anchor="start" font-size="13" textLength="12.81" lengthAdjust="spacingAndGlyphs" class="tb">FQ</text>
<line x1="475.6" y1="293.8" x2="496.4" y2="293.8"/>
<line x1="496.4" y1="293.8" x2="512.8" y2="287.8"/>
<line x1="512.8" y1="293.8" x2="543.5" y2="293.8"/>
<text x="517.9" y="291.49" text-anchor="start" font-size="13" textLength="12.6" lengthAdjust="spacingAndGlyphs" class="tb">QF</text>
<line x1="400.2" y1="293.8" x2="400.2" y2="339.8"/>
<line x1="348.7" y1="313.2" x2="375.2" y2="313.2"/>
<line x1="375.2" y1="313.2" x2="391.4" y2="307.2"/>
<line x1="391.4" y1="313.2" x2="400.2" y2="313.2"/>
<line x1="348.7" y1="339.8" x2="375.2" y2="339.8"/>
<line x1="375.2" y1="339.8" x2="391.4" y2="334.4"/>
<line x1="391.4" y1="339.8" x2="400.2" y2="339.8"/>
<text x="362.9" y="311.92" text-anchor="start" font-size="12.48" textLength="11.97" lengthAdjust="spacingAndGlyphs" class="t">K1</text>
<text x="362.3" y="336.72" text-anchor="start" font-size="12.48" textLength="11.97" lengthAdjust="spacingAndGlyphs" class="t">JR</text>
<polyline points="383.8,336.6 384.8,328.4 389.6,328.4 385.4,333"/>
<text x="421.5" y="337.69" text-anchor="start" font-size="13" textLength="12.6" lengthAdjust="spacingAndGlyphs" class="tb">QF</text>
<text x="434" y="338.28" text-anchor="start" font-size="12" textLength="111" lengthAdjust="spacing" class="z">起动电动机操作回路</text>
<text x="344.7" y="379.72" text-anchor="start" font-size="12.48" textLength="12.18" lengthAdjust="spacingAndGlyphs" class="t">U1</text>
<line x1="343.6" y1="381.6" x2="357" y2="381.6"/>
<text x="539.1" y="379.92" text-anchor="start" font-size="12.48" textLength="12.18" lengthAdjust="spacingAndGlyphs" class="t">V1</text>
<line x1="537.8" y1="382.6" x2="552" y2="382.6"/>
<line x1="349.5" y1="381.6" x2="350.5" y2="807"/>
<line x1="544.7" y1="382.6" x2="544.7" y2="456.3"/>
<line x1="539.4" y1="518.4" x2="553" y2="518.4"/>
<line x1="546.1" y1="518.4" x2="547.3" y2="807.2"/>
<line x1="349.8" y1="427.4" x2="378.2" y2="427.4"/>
<line x1="378.2" y1="427.4" x2="393.6" y2="421.8"/>
<line x1="393.6" y1="427.4" x2="425" y2="427.4"/>
<polyline points="380.5,419.4 380.5,416.2 389.9,416.2 389.9,419.4"/>
<line x1="385.2" y1="416.2" x2="385.2" y2="425.2" stroke-dasharray="2.8 1.7" stroke-linecap="butt"/>
<text x="356.9" y="423.52" text-anchor="start" font-size="12.48" textLength="18.48" lengthAdjust="spacingAndGlyphs" class="t">SB1</text>
<line x1="441" y1="427.4" x2="464" y2="427.4"/>
<line x1="486.6" y1="427.4" x2="544.7" y2="427.4"/>
<circle cx="433" cy="427.4" r="8" class="w"/>
<text x="433" y="432.4" text-anchor="middle" font-size="14.56" textLength="13.44" lengthAdjust="spacingAndGlyphs" class="t">30</text>
<circle cx="515.8" cy="427.4" r="8" class="w"/>
<text x="515.8" y="432.4" text-anchor="middle" font-size="14.56" textLength="13.44" lengthAdjust="spacingAndGlyphs" class="t">28</text>
<rect x="464" y="423.7" width="22.6" height="7.4" class="w"/>
<rect x="469.4" y="437" width="12" height="6.8" class="w"/>
<line x1="471.4" y1="431.1" x2="471.4" y2="437"/>
<line x1="479.3" y1="431.1" x2="479.3" y2="437"/>
<text x="484.9" y="444.69" text-anchor="start" font-size="13" textLength="12.81" lengthAdjust="spacingAndGlyphs" class="tb">DQ</text>
<line x1="469.5" y1="415" x2="469.5" y2="423.8"/>
<circle cx="469.5" cy="407.1" r="8" class="w"/>
<text x="469.5" y="412.1" text-anchor="middle" font-size="14.56" textLength="13.44" lengthAdjust="spacingAndGlyphs" class="t">29</text>
<polyline points="432.6,419.4 432.6,406.6 439,406.6"/>
<line x1="439" y1="406.6" x2="454.6" y2="412.8"/>
<line x1="454.2" y1="406.8" x2="454.2" y2="414.4"/>
<line x1="454.2" y1="407.1" x2="461.5" y2="407.1"/>
<text x="441.1" y="403.89" text-anchor="start" font-size="13" textLength="12.81" lengthAdjust="spacingAndGlyphs" class="tb">QF</text>
<line x1="349.8" y1="456.3" x2="378.2" y2="456.3"/>
<line x1="378.2" y1="456.3" x2="393.6" y2="450.7"/>
<line x1="393.6" y1="456.3" x2="425.8" y2="456.3"/>
<polyline points="380.5,448 380.5,444.8 389.9,444.8 389.9,448"/>
<line x1="385.2" y1="444.8" x2="385.2" y2="453.8" stroke-dasharray="2.8 1.7" stroke-linecap="butt"/>
<text x="356.9" y="452.92" text-anchor="start" font-size="12.48" textLength="18.9" lengthAdjust="spacingAndGlyphs" class="t">SB2</text>
<rect x="425.8" y="447" width="12" height="18.2" class="w"/>
<line x1="437.8" y1="456.3" x2="494.2" y2="456.3"/>
<line x1="494.2" y1="456.3" x2="512.4" y2="450.5"/>
<line x1="513.6" y1="456.3" x2="544.7" y2="456.3"/>
<text x="443.5" y="453.49" text-anchor="start" font-size="13" textLength="12.81" lengthAdjust="spacingAndGlyphs" class="tb">QF</text>
<text x="498.9" y="468.69" text-anchor="start" font-size="13" textLength="12.81" lengthAdjust="spacingAndGlyphs" class="tb">QF</text>
<line x1="406.8" y1="456.3" x2="406.8" y2="498.6"/>
<line x1="349.8" y1="478" x2="378.2" y2="478"/>
<line x1="378.2" y1="478" x2="397" y2="472.6"/>
<line x1="398.6" y1="478" x2="406.8" y2="478"/>
<line x1="349.8" y1="498.6" x2="378.2" y2="498.6"/>
<line x1="378.2" y1="498.6" x2="397" y2="493.2"/>
<line x1="398.6" y1="498.6" x2="406.8" y2="498.6"/>
<text x="364.3" y="474.52" text-anchor="start" font-size="12.48" textLength="11.55" lengthAdjust="spacingAndGlyphs" class="t">K1</text>
<text x="363.5" y="496.12" text-anchor="start" font-size="12.48" textLength="11.97" lengthAdjust="spacingAndGlyphs" class="t">JR</text>
<polyline points="390,495.2 391,487 396.4,487 392,492"/>
<line x1="349.8" y1="517.8" x2="382.6" y2="517.8"/>
<line x1="382.6" y1="517.8" x2="397" y2="511.6"/>
<line x1="397.8" y1="517.8" x2="407.6" y2="517.8"/>
<text x="359.1" y="515.12" text-anchor="start" font-size="12.48" textLength="19.32" lengthAdjust="spacingAndGlyphs" class="t">KAU</text>
<line x1="349.8" y1="536.6" x2="382.6" y2="536.6"/>
<line x1="382.6" y1="536.6" x2="397" y2="530.4"/>
<line x1="397.8" y1="536.6" x2="407.6" y2="536.6"/>
<text x="359.1" y="533.92" text-anchor="start" font-size="12.48" textLength="19.32" lengthAdjust="spacingAndGlyphs" class="t">KAV</text>
<line x1="349.8" y1="554.8" x2="382.6" y2="554.8"/>
<line x1="382.6" y1="554.8" x2="397" y2="548.6"/>
<line x1="397.8" y1="554.8" x2="407.6" y2="554.8"/>
<text x="359.1" y="552.12" text-anchor="start" font-size="12.48" textLength="19.32" lengthAdjust="spacingAndGlyphs" class="t">KAW</text>
<line x1="349.8" y1="571.4" x2="382.6" y2="571.4"/>
<line x1="382.6" y1="571.4" x2="397" y2="565.2"/>
<line x1="397.8" y1="571.4" x2="434.8" y2="571.4" class="thin"/>
<text x="365.3" y="568.72" text-anchor="start" font-size="12.48" textLength="12.6" lengthAdjust="spacingAndGlyphs" class="t">KV</text>
<line x1="407.6" y1="517.8" x2="407.6" y2="554.8"/>
<line x1="407.6" y1="517.8" x2="434.8" y2="517.8"/>
<rect x="434.8" y="508.2" width="12.1" height="18" class="w"/>
<rect x="434.8" y="562.4" width="12.1" height="18" class="w"/>
<text x="450.1" y="515.12" text-anchor="start" font-size="12.48" textLength="19.32" lengthAdjust="spacingAndGlyphs" class="t">KS1</text>
<text x="450.1" y="568.92" text-anchor="start" font-size="12.48" textLength="19.32" lengthAdjust="spacingAndGlyphs" class="t">KS2</text>
<polyline points="446.9,517.8 492.6,517.8 492.6,593.4 504.7,593.4"/>
<polyline points="446.9,571.4 477.4,571.4 477.4,616.8 504.7,616.8"/>
<rect x="504.7" y="584" width="11.7" height="18.4" class="w"/>
<line x1="516.4" y1="593.4" x2="546.6" y2="593.4"/>
<text x="522.3" y="590.32" text-anchor="start" font-size="12.48" textLength="18.9" lengthAdjust="spacingAndGlyphs" class="t">KT1</text>
<rect x="504.7" y="607.4" width="11.7" height="18.4" class="w"/>
<line x1="516.4" y1="616.8" x2="546.6" y2="616.8"/>
<text x="522.3" y="613.72" text-anchor="start" font-size="12.48" textLength="18.9" lengthAdjust="spacingAndGlyphs" class="t">KT2</text>
<rect x="504.7" y="630" width="11.7" height="18.4" class="w"/>
<line x1="516.4" y1="639.4" x2="546.6" y2="639.4"/>
<text x="522.3" y="636.32" text-anchor="start" font-size="12.48" textLength="12.18" lengthAdjust="spacingAndGlyphs" class="t">K1</text>
<line x1="349.8" y1="639.2" x2="372.2" y2="639.2"/>
<line x1="372.2" y1="639.2" x2="390" y2="632"/>
<line x1="391" y1="639.2" x2="504.7" y2="639.2"/>
<line x1="349.8" y1="658.6" x2="372.2" y2="658.6"/>
<line x1="372.2" y1="658.6" x2="390" y2="651.4"/>
<line x1="391" y1="658.6" x2="412.6" y2="658.6"/>
<line x1="412.6" y1="639.2" x2="412.6" y2="658.6"/>
<path d="M375.2,630.8 c1.2,-3.4 8.4,-3.4 9.6,0"/>
<line x1="379" y1="628.4" x2="379" y2="636.2"/>
<line x1="381.2" y1="628.4" x2="381.2" y2="635.4"/>
<path d="M375.2,650.2 c1.2,-3.4 8.4,-3.4 9.6,0"/>
<line x1="379" y1="647.8" x2="379" y2="655.6"/>
<line x1="381.2" y1="647.8" x2="381.2" y2="654.8"/>
<text x="392.9" y="637.12" text-anchor="start" font-size="12.48" textLength="18.27" lengthAdjust="spacingAndGlyphs" class="t">KT1</text>
<text x="391.5" y="656.12" text-anchor="start" font-size="12.48" textLength="18.9" lengthAdjust="spacingAndGlyphs" class="t">KT2</text>
<line x1="349.8" y1="678.6" x2="546.6" y2="678.6"/>
<circle cx="451.7" cy="678.8" r="7.5" class="k"/>
<path d="M451.7,678.2 L448.6,673.3 Q451.7,671.9 454.8,673.3 Z" class="wf"/>
<path d="M451.7,679.4 L448.6,684.3 Q451.7,685.7 454.8,684.3 Z" class="wf"/>
<text x="460.7" y="676.32" text-anchor="start" font-size="12.48" textLength="18.9" lengthAdjust="spacingAndGlyphs" class="t">1LH</text>
<line x1="349.8" y1="696.8" x2="372.2" y2="696.8"/>
<line x1="372.2" y1="696.8" x2="387.8" y2="690.8"/>
<line x1="388.7" y1="696.8" x2="546.6" y2="696.8"/>
<circle cx="451.7" cy="697" r="7.5" class="k"/>
<path d="M451.7,696.4 L448.6,691.5 Q451.7,690.1 454.8,691.5 Z" class="wf"/>
<path d="M451.7,697.6 L448.6,702.5 Q451.7,703.9 454.8,702.5 Z" class="wf"/>
<text x="394.5" y="693.29" text-anchor="start" font-size="13" textLength="12.6" lengthAdjust="spacingAndGlyphs" class="tb">QF</text>
<text x="460.7" y="694.52" text-anchor="start" font-size="12.48" textLength="18.9" lengthAdjust="spacingAndGlyphs" class="t">2LH</text>
<line x1="349.8" y1="714.9" x2="373.6" y2="714.9"/>
<line x1="373.6" y1="714.9" x2="389" y2="721.7"/>
<line x1="388.7" y1="714.9" x2="388.7" y2="722.5"/>
<line x1="388.7" y1="714.9" x2="546.6" y2="714.9"/>
<circle cx="451.7" cy="715.1" r="7.5" class="k"/>
<path d="M451.7,714.5 L448.6,709.6 Q451.7,708.2 454.8,709.6 Z" class="wf"/>
<path d="M451.7,715.7 L448.6,720.6 Q451.7,722 454.8,720.6 Z" class="wf"/>
<text x="394.5" y="711.89" text-anchor="start" font-size="13" textLength="12.6" lengthAdjust="spacingAndGlyphs" class="tb">QF</text>
<text x="460.7" y="712.52" text-anchor="start" font-size="12.48" textLength="18.9" lengthAdjust="spacingAndGlyphs" class="t">3LH</text>
<line x1="349.8" y1="734.7" x2="372.2" y2="734.7"/>
<line x1="372.2" y1="734.7" x2="387.8" y2="729.1"/>
<line x1="391.6" y1="734.7" x2="450.5" y2="734.7"/>
<line x1="456.8" y1="734.7" x2="507.8" y2="734.7"/>
<path d="M445.5,730 a8.6,5.6 0 0,1 17.2,0 Z" class="w"/>
<line x1="450.5" y1="730" x2="450.5" y2="734.7"/>
<line x1="456.8" y1="730" x2="456.8" y2="734.7"/>
<text x="395.5" y="732.92" text-anchor="start" font-size="12.48" textLength="11.13" lengthAdjust="spacingAndGlyphs" class="t">K1</text>
<text x="467.4" y="731.92" text-anchor="start" font-size="12.48" textLength="12.6" lengthAdjust="spacingAndGlyphs" class="t">NA</text>
<text x="505.9" y="732.89" text-anchor="start" font-size="13" textLength="12.6" lengthAdjust="spacingAndGlyphs" class="tb">QF</text>
<line x1="507.8" y1="734.7" x2="519.6" y2="742.3"/>
<line x1="519.2" y1="734.7" x2="519.2" y2="742.9"/>
<line x1="519.2" y1="734.7" x2="546.6" y2="734.7"/>
<line x1="412.8" y1="734.7" x2="412.8" y2="756.6"/>
<line x1="349.8" y1="756.6" x2="372.2" y2="756.6"/>
<line x1="372.2" y1="756.6" x2="387.8" y2="751"/>
<line x1="388.7" y1="756.6" x2="412.8" y2="756.6"/>
<text x="395.5" y="753.92" text-anchor="start" font-size="12.48" textLength="11.13" lengthAdjust="spacingAndGlyphs" class="t">K1</text>
<line x1="349.8" y1="780.8" x2="372.2" y2="780.8"/>
<line x1="372.2" y1="780.8" x2="387.8" y2="775.2"/>
<line x1="388.7" y1="780.8" x2="546.6" y2="780.8"/>
<rect x="441.4" y="772.2" width="21.8" height="17.6" class="w"/>
<circle cx="452" cy="780.8" r="7.5" class="k"/>
<path d="M452,780.2 L448.9,775.3 Q452,773.9 455.1,775.3 Z" class="wf"/>
<path d="M452,781.4 L448.9,786.3 Q452,787.7 455.1,786.3 Z" class="wf"/>
<text x="394.5" y="777.92" text-anchor="start" font-size="12.48" textLength="18.27" lengthAdjust="spacingAndGlyphs" class="t">KS1</text>
<text x="467.1" y="778.72" text-anchor="start" font-size="12.48" textLength="18.9" lengthAdjust="spacingAndGlyphs" class="t">1GP</text>
<line x1="349.8" y1="807" x2="372.2" y2="807"/>
<line x1="372.2" y1="807" x2="387.8" y2="801.4"/>
<line x1="388.7" y1="807" x2="546.6" y2="807"/>
<rect x="441.4" y="798.4" width="21.8" height="17.6" class="w"/>
<circle cx="452" cy="807" r="7.5" class="k"/>
<path d="M452,806.4 L448.9,801.5 Q452,800.1 455.1,801.5 Z" class="wf"/>
<path d="M452,807.6 L448.9,812.5 Q452,813.9 455.1,812.5 Z" class="wf"/>
<text x="394.5" y="804.12" text-anchor="start" font-size="12.48" textLength="18.27" lengthAdjust="spacingAndGlyphs" class="t">KS2</text>
<text x="467.1" y="804.92" text-anchor="start" font-size="12.48" textLength="18.9" lengthAdjust="spacingAndGlyphs" class="t">2GP</text>
<rect x="556" y="192.4" width="98.4" height="157.8"/>
<line x1="556" y1="215.5" x2="654.4" y2="215.5"/>
<line x1="632" y1="215.5" x2="632" y2="350.2"/>
<line x1="556" y1="237.6" x2="632" y2="237.6"/>
<line x1="556" y1="260.4" x2="632" y2="260.4"/>
<line x1="556" y1="306.2" x2="632" y2="306.2"/>
<line x1="556" y1="329" x2="632" y2="329"/>
<line x1="556" y1="283.9" x2="654.4" y2="283.9"/>
<text x="558.5" y="209.62" text-anchor="start" font-size="12.48" textLength="25.2" lengthAdjust="spacingAndGlyphs" class="t">380V</text>
<text x="582.6" y="210.38" text-anchor="start" font-size="12" textLength="50.2" lengthAdjust="spacing" class="z">交流电源</text>
<text x="562.7" y="231.98" text-anchor="start" font-size="12" textLength="48.9" lengthAdjust="spacing" class="z">合闸按钮</text>
<text x="564.6" y="253.98" text-anchor="start" font-size="12" textLength="48.9" lengthAdjust="spacing" class="z">储能按钮</text>
<text x="558.2" y="277.18" text-anchor="start" font-size="12" textLength="62.1" lengthAdjust="spacing" class="z">起动电动机</text>
<text x="565.4" y="299.98" text-anchor="start" font-size="12" textLength="49.1" lengthAdjust="spacing" class="z">分闸按钮</text>
<text x="564.6" y="323.38" text-anchor="start" font-size="12" textLength="48.9" lengthAdjust="spacing" class="z">继电保护</text>
<text x="564.6" y="344.68" text-anchor="start" font-size="12" textLength="48.9" lengthAdjust="spacing" class="z">过载保护</text>
<text x="643" y="238.99" text-anchor="middle" font-size="13" textLength="12.6" lengthAdjust="spacingAndGlyphs" class="tb">QF</text>
<text x="643" y="250.96" text-anchor="middle" font-size="11" class="z">合</text>
<text x="643" y="262.66" text-anchor="middle" font-size="11" class="z">闸</text>
<text x="643" y="311.99" text-anchor="middle" font-size="13" textLength="12.6" lengthAdjust="spacingAndGlyphs" class="tb">QF</text>
<text x="643" y="324.46" text-anchor="middle" font-size="11" class="z">分</text>
<text x="643" y="336.66" text-anchor="middle" font-size="11" class="z">闸</text>
<polyline points="557.1,374.9 655.4,374.9 657.3,814.4 558.2,814.4 557.1,374.9"/>
<line x1="557.1" y1="393" x2="655.5" y2="393"/>
<line x1="557.2" y1="411.8" x2="655.6" y2="411.8"/>
<line x1="634.2" y1="411.8" x2="635" y2="814.4"/>
<line x1="557.4" y1="430.1" x2="634.6" y2="430.1"/>
<line x1="557.4" y1="472.8" x2="634.6" y2="472.8"/>
<line x1="557.4" y1="491.4" x2="634.6" y2="491.4"/>
<line x1="557.4" y1="567.3" x2="634.6" y2="567.3"/>
<line x1="557.4" y1="598.2" x2="634.6" y2="598.2"/>
<line x1="557.4" y1="640.2" x2="634.6" y2="640.2"/>
<line x1="557.4" y1="686.9" x2="634.6" y2="686.9"/>
<line x1="557.4" y1="705.9" x2="634.6" y2="705.9"/>
<line x1="557.4" y1="724.6" x2="634.6" y2="724.6"/>
<line x1="557.4" y1="766.5" x2="634.6" y2="766.5"/>
<line x1="557.5" y1="449.4" x2="656.2" y2="449.4"/>
<line x1="557.5" y1="515" x2="656.2" y2="515"/>
<line x1="557.5" y1="665.3" x2="656.2" y2="665.3"/>
<text x="559.7" y="387.82" text-anchor="start" font-size="12.48" textLength="25.2" lengthAdjust="spacingAndGlyphs" class="t">220V</text>
<text x="583.8" y="388.68" text-anchor="start" font-size="12" textLength="50.1" lengthAdjust="spacing" class="z">交流电源</text>
<text x="584.9" y="407.38" text-anchor="start" font-size="12" textLength="37.1" lengthAdjust="spacing" class="z">熔断器</text>
<text x="563.6" y="424.88" text-anchor="start" font-size="12" textLength="49" lengthAdjust="spacing" class="z">合闸按钮</text>
<text x="570.1" y="444.48" text-anchor="start" font-size="12" textLength="35.7" lengthAdjust="spacing" class="z">电磁铁</text>
<text x="566.2" y="464.48" text-anchor="start" font-size="12" textLength="48.9" lengthAdjust="spacing" class="z">分闸按钮</text>
<text x="564.5" y="487.48" text-anchor="start" font-size="12" textLength="48.9" lengthAdjust="spacing" class="z">继电保护</text>
<text x="565.7" y="508.88" text-anchor="start" font-size="12" textLength="48.9" lengthAdjust="spacing" class="z">过载保护</text>
<text x="570.7" y="549.58" text-anchor="start" font-size="12" textLength="36.6" lengthAdjust="spacing" class="z">过电流</text>
<text x="571.9" y="587.38" text-anchor="start" font-size="12" textLength="36.9" lengthAdjust="spacing" class="z">过电压</text>
<text x="560.7" y="625.58" text-anchor="start" font-size="12" textLength="61.5" lengthAdjust="spacing" class="z">时间继电器</text>
<text x="560.7" y="656.78" text-anchor="start" font-size="12" textLength="60.9" lengthAdjust="spacing" class="z">出口继电器</text>
<text x="563.9" y="681.68" text-anchor="start" font-size="12" textLength="48.9" lengthAdjust="spacing" class="z">电源指示</text>
<text x="568.2" y="701.69" text-anchor="start" font-size="13" textLength="13.02" lengthAdjust="spacingAndGlyphs" class="tb">QF</text>
<text x="582.5" y="702.28" text-anchor="start" font-size="12" textLength="23.4" lengthAdjust="spacing" class="z">合闸</text>
<text x="568.2" y="718.89" text-anchor="start" font-size="13" textLength="13.02" lengthAdjust="spacingAndGlyphs" class="tb">QF</text>
<text x="582.5" y="719.48" text-anchor="start" font-size="12" textLength="23.4" lengthAdjust="spacing" class="z">分闸</text>
<text x="577.4" y="749.48" text-anchor="start" font-size="12" textLength="25.4" lengthAdjust="spacing" class="z">警铃</text>
<text x="571.2" y="793.78" text-anchor="start" font-size="12" textLength="37" lengthAdjust="spacing" class="z">光字牌</text>
<text x="644.6" y="423.59" text-anchor="middle" font-size="13" textLength="12.6" lengthAdjust="spacingAndGlyphs" class="tb">QF</text>
<text x="644.6" y="435.47" text-anchor="middle" font-size="11" class="z">合</text>
<text x="644.6" y="447.06" text-anchor="middle" font-size="11" class="z">闸</text>
<text x="644.6" y="474.89" text-anchor="middle" font-size="13" textLength="12.6" lengthAdjust="spacingAndGlyphs" class="tb">QF</text>
<text x="644.6" y="487.17" text-anchor="middle" font-size="11" class="z">分</text>
<text x="644.6" y="499.17" text-anchor="middle" font-size="11" class="z">闸</text>
<text x="646.6" y="571.47" text-anchor="middle" font-size="11.5" class="z">保</text>
<text x="646.6" y="583.57" text-anchor="middle" font-size="11.5" class="z">护</text>
<text x="646.6" y="595.67" text-anchor="middle" font-size="11.5" class="z">回</text>
<text x="646.6" y="607.77" text-anchor="middle" font-size="11.5" class="z">路</text>
<text x="645.9" y="721.17" text-anchor="middle" font-size="11.5" class="z">信</text>
<text x="645.9" y="732.97" text-anchor="middle" font-size="11.5" class="z">号</text>
<text x="645.9" y="744.77" text-anchor="middle" font-size="11.5" class="z">回</text>
<text x="645.9" y="756.57" text-anchor="middle" font-size="11.5" class="z">路</text>
</svg>
</body></html>
